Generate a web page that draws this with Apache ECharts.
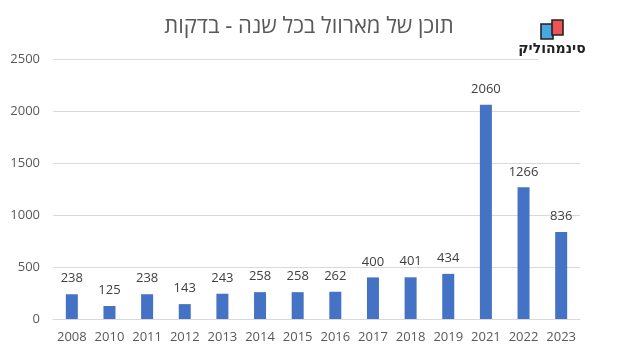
<!DOCTYPE html>
<html>
<head>
<meta charset="utf-8">
<script src="https://cdn.jsdelivr.net/npm/echarts@6/dist/echarts.min.js"></script>
<style>
  html, body { margin: 0; padding: 0; background: #fff; }
  #chart { width: 618px; height: 354px; }
</style>
</head>
<body>
<div id="chart"></div>
<script>
// years and minutes of Marvel content
const years = ['2008', '2010', '2011', '2012', '2013', '2014', '2015', '2016', '2017', '2018', '2019', '2021', '2022', '2023']
const minutes = [238, 125, 238, 143, 243, 258, 258, 262, 400, 401, 434, 2060, 1266, 836]

const chart = echarts.init(document.getElementById('chart'))

const option = {
  backgroundColor: '#fff',
  animation: false,
  title: {
    text: 'תוכן של מארוול בכל שנה - בדקות',
    left: 'center',
    top: 11,
    textStyle: {
      fontFamily: 'Noto Sans, Open Sans, sans-serif',
      fontSize: 22,
      fontWeight: 'normal',
      color: '#595959'
    }
  },
  grid: {
    left: 53,
    right: 38,
    top: 59,
    bottom: 35
  },
  xAxis: {
    type: 'category',
    data: years,
    axisLine: { lineStyle: { color: '#d9d9d9' } },
    axisTick: { show: false },
    axisLabel: {
      interval: 0,
      color: '#595959',
      fontSize: 13,
      margin: 12,
      fontFamily: 'Open Sans, sans-serif'
    }
  },
  yAxis: {
    type: 'value',
    min: 0,
    max: 2500,
    interval: 500,
    axisLine: { show: false },
    axisTick: { show: false },
    splitLine: { lineStyle: { color: '#d9d9d9' } },
    axisLabel: {
      formatter: v => String(v),
      color: '#595959',
      fontSize: 13,
      margin: 13,
      fontFamily: 'Open Sans, sans-serif'
    }
  },
  series: [{
    type: 'bar',
    data: minutes,
    barWidth: 12,
    itemStyle: { color: '#4472C4' },
    label: {
      show: true,
      position: 'top',
      distance: 9,
      color: '#404040',
      fontSize: 13,
      fontFamily: 'Open Sans, sans-serif'
    }
  }],
  // logo in the corner
  graphic: [
    { type: 'rect', shape: { x: 538, y: 15, width: 64, height: 46 }, style: { fill: '#fff' }, z: 10 },
    { type: 'rect', shape: { x: 541, y: 24, width: 12, height: 15 }, style: { fill: '#4aa8e0', stroke: '#222', lineWidth: 1.6 }, z: 11 },
    { type: 'rect', shape: { x: 552, y: 20, width: 11, height: 15 }, style: { fill: '#ee5454', stroke: '#222', lineWidth: 1.6 }, z: 12 },
    {
      type: 'text',
      x: 552,
      y: 49,
      style: {
        text: 'סינמהוליק',
        fill: '#222',
        fontSize: 14,
        fontWeight: 'bold',
        fontFamily: 'DejaVu Sans, sans-serif',
        align: 'center',
        verticalAlign: 'middle'
      },
      z: 12
    }
  ]
}

chart.setOption(option)
</script>
</body>
</html>
